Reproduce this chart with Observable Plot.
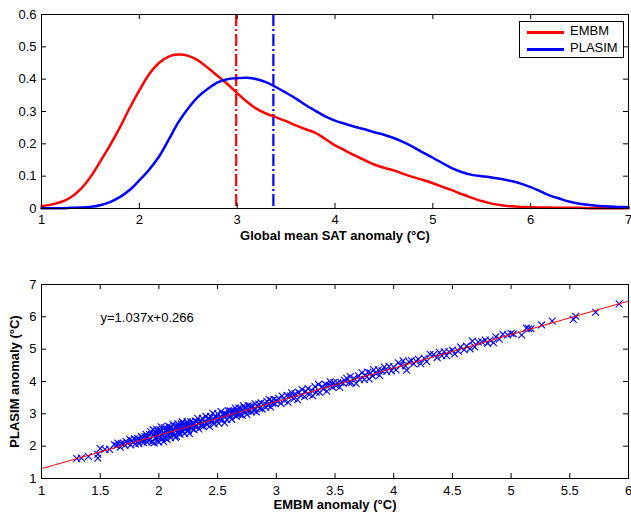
<!DOCTYPE html>
<html>
<head>
<meta charset="utf-8">
<script src="https://cdn.jsdelivr.net/npm/d3@7"></script>
<script src="https://cdn.jsdelivr.net/npm/@observablehq/plot@0.6"></script>
<style>
  html, body { margin: 0; padding: 0; background: #fff; }
  #wrap { position: relative; width: 631px; height: 514px; font-family: "Liberation Sans", Arial, sans-serif; }
  #wrap svg { position: absolute; left: 0; display: block; }
  g[aria-label="x-axis label"] text, g[aria-label="y-axis label"] text { font-weight: bold; }
  #legend { position: absolute; left: 519px; top: 21px; width: 103px; height: 35px; border: 1px solid #000; background: #fff; font-size: 13px; }
  #legend .row { position: absolute; left: 0; height: 14px; }
  #legend .sw { position: absolute; left: 7px; width: 37px; height: 2.5px; }
  #legend .lb { position: absolute; left: 50px; top: -8px; white-space: nowrap; line-height: 16px; }
</style>
</head>
<body>
<div id="wrap"></div>
<script>
// ---- Top panel: density of global mean SAT anomaly ----
const densityX = [1.0,1.1,1.2,1.3,1.4,1.5,1.6,1.7,1.8,1.9,
  2.0,2.1,2.2,2.3,2.4,2.5,2.6,2.7,2.8,2.9,
  3.0,3.1,3.2,3.3,3.4,3.5,3.6,3.7,3.8,3.9,
  4.0,4.1,4.2,4.3,4.4,4.5,4.6,4.7,4.8,4.9,
  5.0,5.1,5.2,5.3,5.4,5.5,5.6,5.7,5.8,5.9,
  6.0,6.1,6.2,6.3,6.4,6.5,6.6,6.7,6.8,6.9,7.0];
const densityEMBM = [0.008,0.012,0.02,0.035,0.06,0.097,0.145,0.195,0.25,0.31,
  0.365,0.415,0.45,0.47,0.476,0.472,0.458,0.435,0.41,0.385,
  0.357,0.33,0.308,0.293,0.282,0.27,0.257,0.245,0.234,0.215,
  0.195,0.18,0.164,0.15,0.136,0.126,0.118,0.107,0.097,0.088,
  0.078,0.067,0.056,0.044,0.033,0.023,0.015,0.01,0.007,0.005,
  0.004,0.003,0.003,0.002,0.002,0.002,0.001,0.001,0.001,0.001,0.001];
const densityPLASIM = [0.001,0.001,0.001,0.002,0.003,0.005,0.01,0.02,0.035,0.057,
  0.087,0.12,0.16,0.213,0.267,0.31,0.345,0.37,0.39,0.4,
  0.403,0.404,0.4,0.39,0.375,0.358,0.34,0.32,0.302,0.285,
  0.272,0.262,0.253,0.245,0.236,0.228,0.218,0.205,0.19,0.173,
  0.157,0.14,0.124,0.112,0.104,0.1,0.096,0.091,0.085,0.077,
  0.066,0.053,0.04,0.03,0.021,0.015,0.011,0.008,0.006,0.005,0.004];
const meanModels = ["EMBM", "PLASIM"];
const meanValues = [2.99, 3.37];
const topXTicks = [1,2,3,4,5,6,7];
const topYTicks = [0,0.1,0.2,0.3,0.4,0.5,0.6];

// ---- Bottom panel: scatter EMBM vs PLASIM ----
const scatterEMBM = [
  1.30,1.34,1.40,1.48,1.48,1.50,1.54,1.58,
  1.62,1.64,1.65,1.67,1.68,1.70,1.71,1.72,1.73,1.75,
  1.76,1.77,1.78,1.79,1.80,1.81,1.82,1.83,1.84,1.85,
  1.86,1.86,1.87,1.88,1.88,1.89,1.90,1.90,1.91,1.92,
  1.93,1.94,1.95,1.95,1.96,1.97,1.97,1.98,1.99,2.00,
  2.00,2.01,2.02,2.02,2.03,2.04,2.05,2.05,2.06,2.07,
  2.08,2.08,2.09,2.10,2.10,2.11,2.12,2.13,2.13,2.14,
  2.15,2.15,2.16,2.17,2.18,2.18,2.19,2.20,2.20,2.21,
  2.22,2.23,2.23,2.24,2.25,2.26,2.26,2.27,2.28,2.29,
  2.30,2.31,2.32,2.33,2.34,2.35,2.36,2.37,2.38,2.39,
  2.40,2.41,2.42,2.43,2.44,2.45,2.46,2.47,2.48,2.49,
  2.50,2.51,2.52,2.53,2.54,2.55,2.56,2.57,2.58,2.59,
  2.60,2.61,2.62,2.63,2.64,2.65,2.66,2.67,2.68,2.69,
  2.70,2.71,2.72,2.73,2.74,2.75,2.76,2.77,2.78,2.79,
  2.80,2.81,2.82,2.83,2.84,2.85,2.86,2.87,2.88,2.90,
  2.91,2.92,2.93,2.94,2.95,2.96,2.97,2.98,2.99,3.00,
  1.96,1.99,2.02,2.04,2.07,2.11,2.14,2.17,2.19,2.23,
  2.25,2.28,2.31,2.34,2.37,2.40,2.43,2.46,2.49,2.52,
  2.55,2.58,2.61,2.64,2.67,2.70,2.73,2.76,2.79,2.82,
  2.03,2.06,2.09,2.12,2.16,2.21,2.24,2.27,2.32,2.36,
  3.02,3.04,3.05,3.07,3.09,3.10,3.12,3.13,3.15,3.16,
  3.18,3.19,3.21,3.22,3.24,3.25,3.27,3.28,3.30,3.31,
  3.33,3.34,3.36,3.37,3.39,3.40,3.42,3.43,3.45,3.46,
  3.48,3.49,3.51,3.52,3.54,3.55,3.57,3.58,3.60,3.62,
  3.63,3.64,3.66,3.68,3.70,3.71,3.73,3.75,3.76,3.78,
  3.79,3.80,3.82,3.83,3.85,3.87,3.88,3.90,3.92,3.94,
  3.96,3.98,4.00,4.02,4.04,4.06,4.08,4.10,4.11,4.13,
  4.15,4.17,4.19,4.21,4.23,4.26,4.28,4.31,4.34,4.37,
  4.39,4.41,4.43,4.45,4.47,4.50,4.52,4.55,4.57,4.60,
  4.62,4.65,4.67,4.69,4.72,4.75,4.78,4.80,4.82,4.85,
  4.87,4.90,4.93,4.97,5.00,5.02,5.09,5.13,5.15,5.17,
  5.26,5.35,5.53,5.55,5.72,5.92];
const scatterPLASIM = [
  1.62,1.63,1.68,1.63,1.75,1.93,1.90,1.90,
  2.05,2.02,2.10,1.97,2.09,2.09,2.02,2.15,2.10,2.21,
  2.04,2.17,2.13,2.23,2.07,2.18,2.24,2.08,2.18,2.30,
  2.15,2.26,2.11,2.30,2.20,2.37,2.12,2.27,2.18,2.36,
  2.45,2.13,2.34,2.51,2.10,2.43,2.26,2.52,2.15,2.42,
  2.12,2.50,2.26,2.60,2.35,2.14,2.57,2.27,2.46,2.21,
  2.62,2.34,2.53,2.26,2.59,2.41,2.68,2.33,2.53,2.27,
  2.62,2.30,2.69,2.46,2.61,2.37,2.69,2.45,2.75,2.54,
  2.39,2.68,2.53,2.75,2.48,2.65,2.39,2.76,2.55,2.73,
  2.51,2.78,2.65,2.86,2.53,2.76,2.63,2.86,2.61,2.77,
  2.92,2.67,2.83,2.61,2.92,2.77,3.02,2.69,2.92,2.79,
  3.00,2.71,2.90,3.07,2.82,3.01,2.72,2.99,2.82,3.10,
  2.92,3.09,2.83,3.07,2.98,3.18,2.92,3.08,3.18,2.98,
  3.17,2.96,3.25,3.05,3.17,2.98,3.25,3.12,3.23,3.06,
  3.23,3.10,3.31,3.06,3.23,3.30,3.17,3.34,3.15,3.32,
  3.20,3.39,3.26,3.44,3.21,3.40,3.33,3.45,3.31,3.41,
  2.32,2.27,2.46,2.42,2.53,2.47,2.59,2.60,2.50,2.60,
  2.66,2.65,2.60,2.71,2.70,2.70,2.85,2.79,2.89,2.83,
  2.96,2.98,2.92,3.08,2.99,3.09,3.20,3.09,3.20,3.16,
  2.23,2.24,2.41,2.38,2.41,2.68,2.57,2.58,2.77,2.77,
  3.48,3.32,3.55,3.41,3.57,3.36,3.55,3.65,3.47,3.62,
  3.44,3.67,3.56,3.75,3.53,3.70,3.78,3.59,3.73,3.56,
  3.84,3.67,3.91,3.66,3.84,3.77,3.91,3.70,3.88,3.99,
  3.82,3.97,3.87,3.96,3.82,3.97,3.95,4.04,4.10,3.96,
  4.15,3.96,4.10,3.94,4.18,4.07,4.27,4.06,4.19,4.29,
  4.08,4.27,4.17,4.36,4.24,4.36,4.19,4.33,4.45,4.31,
  4.47,4.33,4.45,4.36,4.58,4.50,4.64,4.48,4.35,4.61,
  4.65,4.55,4.63,4.69,4.55,4.72,4.62,4.84,4.83,4.74,
  4.90,4.80,4.92,4.80,4.92,4.97,4.85,4.94,5.07,4.98,
  5.10,5.01,5.25,5.07,5.22,5.23,5.28,5.18,5.28,5.20,
  5.38,5.31,5.46,5.44,5.49,5.47,5.44,5.65,5.63,5.63,
  5.75,5.87,5.92,6.02,6.14,6.40];
const fitX = [1, 6];
const fitY = [1.303, 6.488];
const fitLabel = "y=1.037x+0.266";
const botXTicks = [1,1.5,2,2.5,3,3.5,4,4.5,5,5.5,6];
const botYTicks = [1,2,3,4,5,6,7];

const RED = "#ff0000", BLUE = "#0000ff";
const W = 631, ML = 41, MR = 3;
const FW = W - ML - MR;
const FH = 194;
const fmt = d => String(d);
const baseStyle = {fontFamily: "'Liberation Sans', Arial, sans-serif", fontSize: "13px", color: "#000", background: "transparent", overflow: "visible"};

function boxTicks(xt, yt) {
  return [
    Plot.ruleX(xt, {x: d => d, insetTop: FH - 5, stroke: "#000"}),
    Plot.ruleX(xt, {x: d => d, insetBottom: FH - 5, stroke: "#000"}),
    Plot.ruleY(yt, {y: d => d, insetRight: FW - 5, stroke: "#000"}),
    Plot.ruleY(yt, {y: d => d, insetLeft: FW - 5, stroke: "#000"}),
    Plot.frame({stroke: "#000", strokeWidth: 1})
  ];
}

const density = densityX.map((x, i) => ({x, EMBM: densityEMBM[i], PLASIM: densityPLASIM[i]}));
const means = meanModels.map((m, i) => ({model: m, x: meanValues[i]}));

const topChart = Plot.plot({
  width: W, height: 250,
  marginLeft: ML, marginRight: MR, marginTop: 14, marginBottom: 42,
  style: baseStyle,
  x: {domain: [1, 7]},
  y: {domain: [0, 0.6]},
  marks: [
    Plot.ruleX(means, {x: "x", stroke: d => d.model === "EMBM" ? RED : BLUE, strokeWidth: 2.2, strokeDasharray: "12,3,2,3"}),
    Plot.line(density, {x: "x", y: "EMBM", stroke: RED, strokeWidth: 2.5, curve: "catmull-rom"}),
    Plot.line(density, {x: "x", y: "PLASIM", stroke: BLUE, strokeWidth: 2.5, curve: "catmull-rom"}),
    ...boxTicks(topXTicks, topYTicks),
    Plot.axisX(topXTicks, {tickSize: 0, tickPadding: 6, tickFormat: fmt, label: "Global mean SAT anomaly (°C)", labelAnchor: "center", labelArrow: "none", labelOffset: 31}),
    Plot.axisY(topYTicks, {tickSize: 0, tickPadding: 5, tickFormat: fmt, label: null})
  ]
});
topChart.style.top = "0px";

const scatter = scatterEMBM.map((x, i) => ({x, y: scatterPLASIM[i]}));
const fit = fitX.map((x, i) => ({x, y: fitY[i]}));

const bottomChart = Plot.plot({
  width: W, height: 264,
  marginLeft: ML, marginRight: MR, marginTop: 34, marginBottom: 36,
  style: baseStyle,
  x: {domain: [1, 6]},
  y: {domain: [1, 7]},
  marks: [
    Plot.dot(scatter, {x: "x", y: "y", symbol: "times", r: 3.2, stroke: BLUE, strokeWidth: 1.1}),
    Plot.line(fit, {x: "x", y: "y", stroke: RED, strokeWidth: 1}),
    Plot.text([fitLabel], {text: d => d, frameAnchor: "top-left", dx: 59, dy: 33, textAnchor: "start", lineAnchor: "middle", fontSize: 13}),
    ...boxTicks(botXTicks, botYTicks),
    Plot.axisX(botXTicks, {tickSize: 0, tickPadding: 7, tickFormat: fmt, label: "EMBM anomaly (°C)", labelAnchor: "center", labelArrow: "none", labelOffset: 30}),
    Plot.axisY(botYTicks, {tickSize: 0, tickPadding: 5, tickFormat: fmt, label: "PLASIM anomaly (°C)", labelAnchor: "center", labelArrow: "none", labelOffset: 32})
  ]
});
bottomChart.style.top = "250px";

const wrap = document.getElementById("wrap");
wrap.appendChild(topChart);
wrap.appendChild(bottomChart);

// legend (top-right box)
const legend = document.createElement("div");
legend.id = "legend";
meanModels.forEach((m, i) => {
  const row = document.createElement("div");
  row.className = "row";
  row.style.top = (i === 0 ? 9 : 26) + "px";
  const sw = document.createElement("div");
  sw.className = "sw";
  sw.style.background = m === "EMBM" ? RED : BLUE;
  const lb = document.createElement("div");
  lb.className = "lb";
  lb.textContent = m;
  row.appendChild(sw); row.appendChild(lb);
  legend.appendChild(row);
});
wrap.appendChild(legend);
</script>
</body>
</html>
